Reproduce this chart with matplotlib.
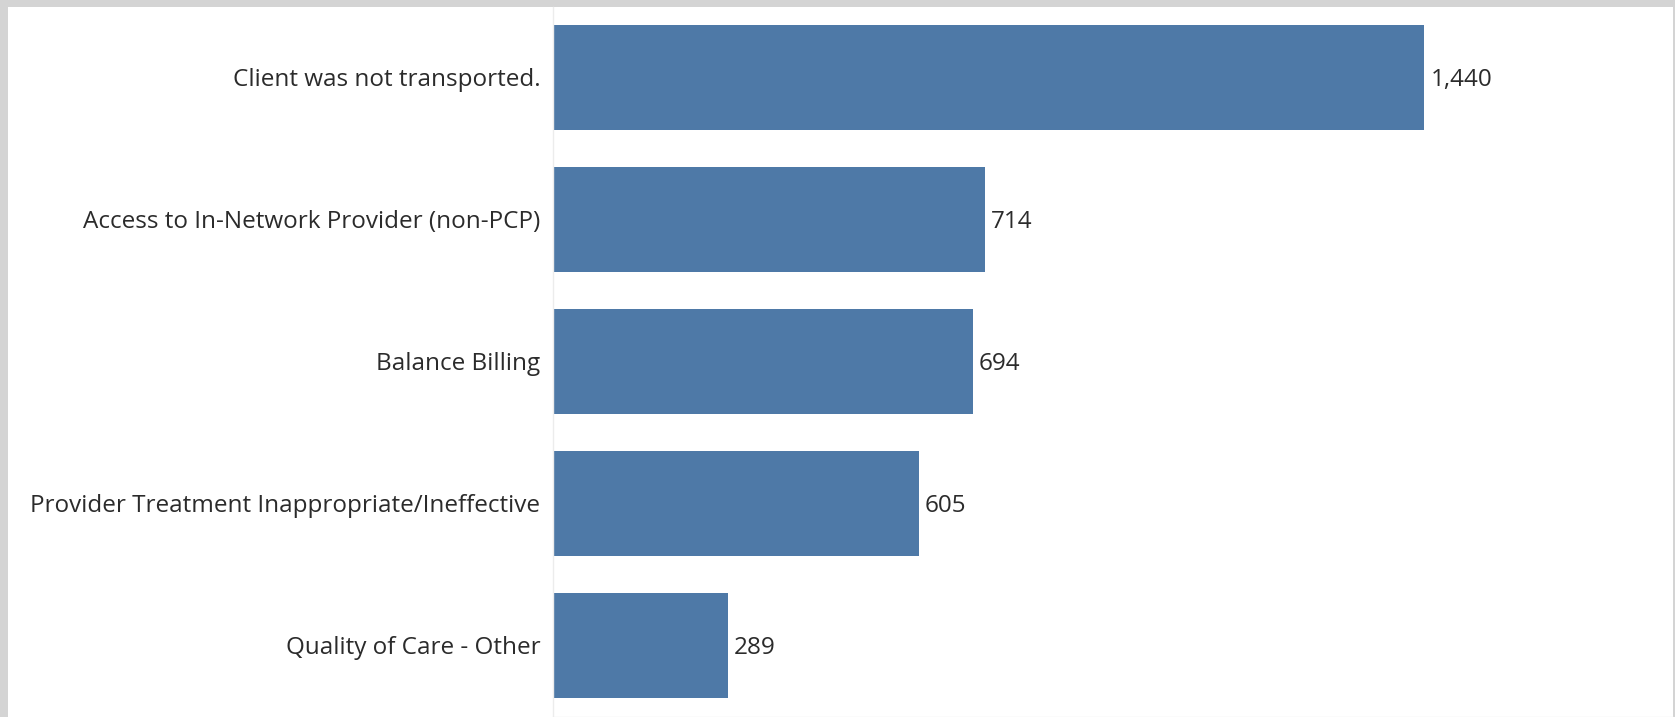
import matplotlib.pyplot as plt
from matplotlib.patches import Rectangle

categories = [
    "Client was not transported.",
    "Access to In-Network Provider (non-PCP)",
    "Balance Billing",
    "Provider Treatment Inappropriate/Ineffective",
    "Quality of Care - Other",
]
counts = [1440, 714, 694, 605, 289]

W, H = 1675, 717
fig = plt.figure(figsize=(W / 100, H / 100), dpi=100, facecolor="#d4d4d4")
# white sheet inside the grey frame
fig.add_artist(Rectangle((8 / W, 0), (1673 - 8) / W, (H - 7) / H,
                         transform=fig.transFigure, facecolor="white",
                         edgecolor="none", zorder=-10))

ax = fig.add_axes([553 / W, 0.5 / H, (1673 - 553) / W, (H - 7) / H])
ax.set_facecolor("none")
ax.set_zorder(5)

ypos = list(range(len(categories)))
ax.barh(ypos, counts, height=0.745, color="#4e79a7", linewidth=0)
ax.set_ylim(len(categories) - 0.5, -0.5)
ax.set_xlim(0, 1851)

fs = 17.5
for y, v in zip(ypos, counts):
    ax.text(v + 10, y + 0.02, f"{v:,}", va="center", ha="left",
            fontsize=fs, color="#2b2b2b", family="Open Sans")

ax.set_yticks(ypos)
ax.set_yticklabels(categories, fontsize=fs, color="#2b2b2b", family="Open Sans")
ax.tick_params(axis="y", length=0, pad=9)
ax.set_xticks([])

for s in ["top", "right"]:
    ax.spines[s].set_visible(False)
ax.spines["left"].set_color("#ececec")
ax.spines["bottom"].set_color("#ececec")
ax.spines["left"].set_linewidth(1)
ax.spines["bottom"].set_linewidth(1)

fig.savefig("out.png", dpi=100, facecolor=fig.get_facecolor())
